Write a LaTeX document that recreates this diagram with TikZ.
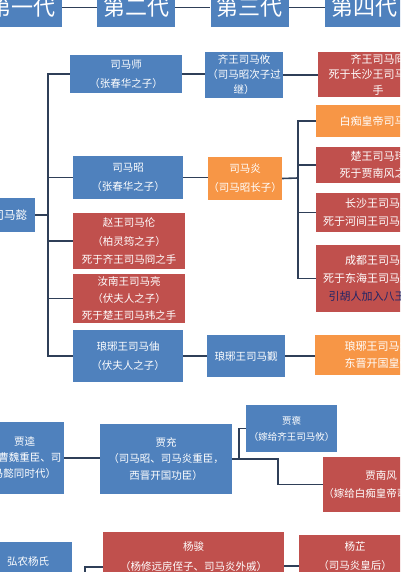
\documentclass[tikz,border=0pt]{standalone}
\usepackage{fontspec}
\newfontfamily\cjk{Noto Sans CJK SC}
\definecolor{bxblue}{HTML}{4F81BD}
\definecolor{bxred}{HTML}{C0504D}
\definecolor{bxorange}{HTML}{F79646}
\definecolor{lncol}{HTML}{2F3F58}
\definecolor{navytxt}{HTML}{1F2466}
\tikzset{
  base/.style={inner sep=0pt, align=center, text=white, font=\cjk\fontsize{10.5}{18}\selectfont},
  bbox/.style={base, fill=bxblue},
  rbox/.style={base, fill=bxred},
  obox/.style={base, fill=bxorange},
  sz/.style 2 args={minimum width=#1pt, minimum height=#2pt},
  lsp/.style={font=\cjk\fontsize{10.5}{#1}\selectfont},
  lspb/.style={font=\cjk\fontsize{11}{#1}\selectfont},
  hdr/.style={bbox, minimum width=78pt, minimum height=39pt, font=\cjk\fontsize{22}{24}\selectfont},
  conn/.style={draw=lncol, line width=1.6pt}
}
\begin{document}
\begin{tikzpicture}[x=1pt,y=-1pt]
\useasboundingbox (0,0) rectangle (400,572);
\clip (0,0) rectangle (400,572);
% headers
\node[hdr] (g1) at (23,7.5) {第一代};
\node[hdr] (g2) at (136,7.5) {第二代};
\node[hdr] (g3) at (249.5,7.5) {第三代};
\node[hdr] (g4) at (364,7.5) {第四代};
\draw[conn] (g1) -- (g2);
\draw[conn] (g2) -- (g3);
\draw[conn] (g3) -- (g4);
% first generation
\node[bbox, sz={50}{34}, font=\cjk\fontsize{11.5}{14}\selectfont] (yi) at (10,215) {司马懿};
% second generation
\node[bbox, sz={112}{38}, lsp=19] (shi) at (126,74) {司马师\\（张春华之子）};
\node[bbox, sz={110}{43}, lsp=19] (zhao) at (128,177.5) {司马昭\\（张春华之子）};
\node[rbox, sz={112}{56}, lsp=18.5] (lun) at (129,241) {赵王司马伦\\（柏灵筠之子）\\死于齐王司马冏之手};
\node[rbox, sz={112}{49}, lsp=17] (liang) at (129,298.5) {汝南王司马亮\\（伏夫人之子）\\死于楚王司马玮之手};
\node[bbox, sz={110}{52}, lsp=19] (zhou) at (128,356) {琅琊王司马伷\\（伏夫人之子）};
\coordinate (bus1) at (48,215);
\draw[conn] (yi.east) -- (bus1);
\draw[conn] (shi.west) -| (bus1);
\draw[conn] (zhou.west) -| (bus1);
\draw[conn] (zhao.west) -- (zhao.west -| bus1);
\draw[conn] (lun.west) -- (lun.west -| bus1);
\draw[conn] (liang.west) -- (liang.west -| bus1);
% third generation
\node[bbox, sz={78}{46}, lsp=15] (you) at (244,75) {齐王司马攸\\（司马昭次子过\\继）};
\node[obox, sz={74}{43}, lsp=19] (yan) at (245,178.5) {司马炎\\（司马昭长子）};
\node[bbox, sz={78}{42}, lsp=18] (jin) at (246,356) {琅琊王司马觐};
\draw[conn] (shi.east) -- (shi.east -| you.west);
\draw[conn] (zhao.east) -- (zhao.east -| yan.west);
\draw[conn] (zhou.east) -- (zhou.east -| jin.west);
% fourth generation
\node[rbox, sz={120}{45}, lspb=15.5] (jiong) at (378,74.5) {齐王司马冏\\死于长沙王司马乂之\\手};
\node[obox, sz={124}{32}, lspb=15] (zhong) at (378,121) {白痴皇帝司马衷};
\node[rbox, sz={124}{36}, lspb=17] (wei) at (378,165) {楚王司马玮\\死于贾南风之手};
\node[rbox, sz={124}{39}, lspb=18] (ai) at (378,212.5) {长沙王司马乂\\死于河间王司马颙之手};
\node[rbox, sz={124}{67}, lspb=18] (ying) at (378,278.5) {成都王司马颖\\死于东海王司马越之手\\\textcolor{navytxt}{引胡人加入八王之乱}};
\node[obox, sz={125}{40}, lspb=17] (rui) at (377.5,355) {琅琊王司马睿\\东晋开国皇帝};
\draw[conn] (you.east) -- (you.east -| jiong.west);
\coordinate (bus2) at (298,178);
\draw[conn] (yan.east) -- (bus2);
\draw[conn] (zhong.west) -| (bus2);
\draw[conn] (ying.west) -| (bus2);
\draw[conn] (wei.west) -- (wei.west -| bus2);
\draw[conn] (ai.west) -- (ai.west -| bus2);
\draw[conn] (jin.east) -- (jin.east -| rui.west);
% Jia family
\node[bbox, sz={79}{72}, lsp=16] (kui) at (24.5,458) {贾逵\\（曹魏重臣、司\\马懿同时代）};
\node[bbox, sz={132}{70}, lsp=16.5] (chong) at (166,459) {贾充\\（司马昭、司马炎重臣，\\西晋开国功臣）};
\node[bbox, sz={91}{47}, lsp=16, font=\cjk\fontsize{9.5}{16}\selectfont] (bao) at (291.5,428.5) {贾褒\\（嫁给齐王司马攸）};
\node[rbox, sz={112}{55}, lsp=18] (nanfeng) at (381,484.5) {贾南风\\（嫁给白痴皇帝司马衷）};
\draw[conn] (kui.east) -- (kui.east -| chong.west);
\coordinate (bus3) at (239,459);
\coordinate (bend3) at (278,459);
\draw[conn] (chong.east) -- (bus3);
\draw[conn] (bao.west) -| (bus3);
\draw[conn] (bus3) -- (bend3) |- (nanfeng.west);
% Yang family
\node[bbox, sz={88}{40}, lsp=16] (hongnong) at (28,562) {弘农杨氏};
\node[rbox, sz={181}{50}, lsp=20] (yangjun) at (193.5,557) {杨骏\\（杨修远房侄子、司马炎外戚）};
\node[rbox, sz={112}{43}, lsp=19] (yangzhi) at (355,556.5) {杨芷\\（司马炎皇后）};
\coordinate (yjlow) at (85,590);
\draw[conn] (yangjun.west |- 0,567) -| (yjlow);
\draw[conn] (yangjun.east |- 0,566) -- (yangzhi.west |- 0,566);
\end{tikzpicture}
\end{document}
